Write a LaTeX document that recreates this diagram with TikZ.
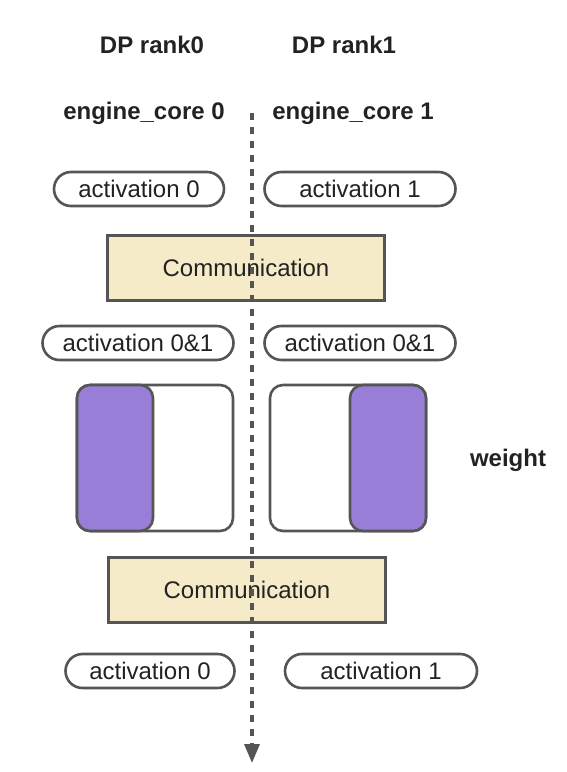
\documentclass[tikz,border=0pt]{standalone}
\usepackage{fontspec}
\setmainfont{Liberation Sans}
\usepackage{tikz}
\usetikzlibrary{arrows,arrows.meta}
\usetikzlibrary{positioning}
\definecolor{edgegray}{HTML}{555555}
\definecolor{textgray}{HTML}{222222}
\definecolor{commfill}{HTML}{F6EBC8}
\definecolor{wpurple}{HTML}{987ED6}

\begin{document}
\begin{tikzpicture}[x=1pt,y=-1pt,
		every node/.style={text=textgray, font=\fontsize{24}{28}\selectfont},
		pill/.style={draw=edgegray, line width=2.6pt, fill=white, rounded corners=17pt, minimum height=34pt, inner sep=0pt},
		commbox/.style={draw=edgegray, line width=2.6pt, fill=commfill, minimum width=277pt, minimum height=65pt, inner sep=0pt},
		wbox/.style={draw=edgegray, line width=2.6pt, fill=white, rounded corners=13pt, minimum width=156pt, minimum height=146pt, inner sep=0pt},
		wpart/.style={draw=edgegray, line width=2.6pt, fill=wpurple, rounded corners=13pt, minimum width=76pt, minimum height=146pt, inner sep=0pt},
		head/.style={font=\fontsize{24}{28}\selectfont\bfseries, anchor=base}]
		\useasboundingbox (0,0) rectangle (566,772);
		% headings
		\node[head] (rank0) at (152,53) {DP rank0};
		\node[head] (rank1) at (344,53) {DP rank1};
		\node[head] (core0) at (144,119) {engine\_core 0};
		\node[head] (core1) at (353,119) {engine\_core 1};
		% first stage
		\node[pill, minimum width=170pt] (act0) at (139,189) {activation 0};
		\node[pill, minimum width=191pt] (act1) at (360,189) {activation 1};
		\node[commbox] (comm1) at (246,268) {Communication};
		\node[pill, minimum width=191pt] (all0) at (138,343) {activation 0\&1};
		\node[pill, minimum width=191pt] (all1) at (360,343) {activation 0\&1};
		% weights
		\node[wbox] (w0) at (155,458) {};
		\node[wpart, anchor=west] (w0part) at (w0.west) {};
		\node[wbox] (w1) at (348,458) {};
		\node[wpart, anchor=east] (w1part) at (w1.east) {};
		\node[font=\fontsize{24}{28}\selectfont\bfseries] (wlabel) at (508,460) {weight};
		% second stage
		\node[commbox] (comm2) at (247,590) {Communication};
		\node[pill, minimum width=169pt] (out0) at (150,671) {activation 0};
		\node[pill, minimum width=192pt] (out1) at (381,671) {activation 1};
		% time axis
		\coordinate (ttop) at (252,113);
		\coordinate (tend) at (252,763);
		\draw[edgegray, line width=3.4pt, dash pattern=on 7pt off 7pt, -{Triangle[length=19pt,width=15pt]}] (ttop) -- (tend);
		\end{tikzpicture}
\end{document}
